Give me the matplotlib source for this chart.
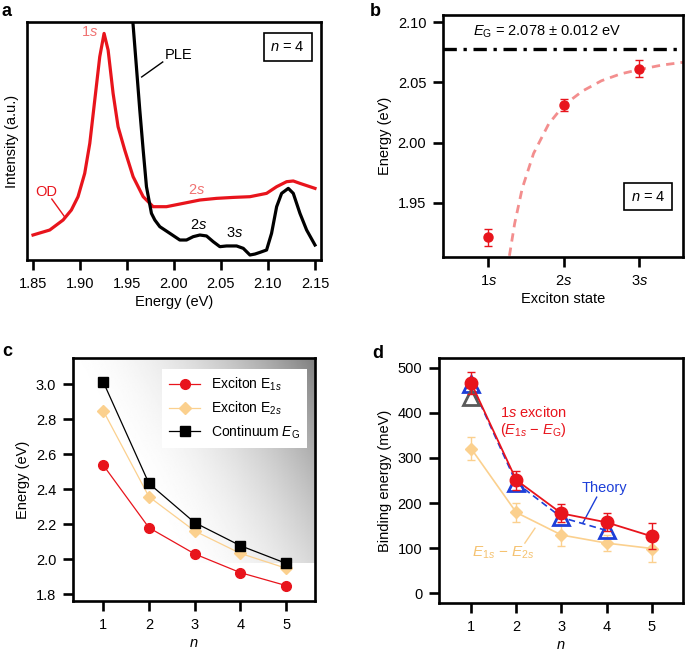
import numpy as np
import matplotlib
matplotlib.use("Agg")
from matplotlib import pyplot as plt

plt.rcParams['font.family'] = ['Liberation Sans', 'DejaVu Sans']
plt.rcParams['mathtext.fontset'] = 'custom'
plt.rcParams['mathtext.rm'] = 'Liberation Sans'
plt.rcParams['mathtext.it'] = 'Liberation Sans:italic'
plt.rcParams['mathtext.bf'] = 'Liberation Sans:bold'
plt.rcParams['font.size'] = 10

# --- panel a: spectra
od_x = [1.85, 1.8678, 1.882, 1.8908, 1.8979, 1.905, 1.9104, 1.9157, 1.921, 1.9256,
        1.9299, 1.9352, 1.9405, 1.9476, 1.9565, 1.9672, 1.9778, 1.992, 2.0098, 2.0275,
        2.0453, 2.063, 2.0808, 2.0985, 2.1092, 2.1198, 2.1269, 2.134, 2.15]
od_y = [0.105, 0.126, 0.168, 0.210, 0.266, 0.364, 0.490, 0.672, 0.854, 0.952,
        0.882, 0.700, 0.560, 0.462, 0.350, 0.266, 0.224, 0.224, 0.238, 0.252,
        0.259, 0.263, 0.266, 0.280, 0.308, 0.329, 0.332, 0.322, 0.301]
ple_x = [1.955, 1.9565, 1.960, 1.9636, 1.9672, 1.9707, 1.976, 1.9796, 1.9849, 1.9956,
         2.0062, 2.0133, 2.0204, 2.0275, 2.0346, 2.0417, 2.0488, 2.0559, 2.0666, 2.0737,
         2.0808, 2.0861, 2.0914, 2.0985, 2.1038, 2.1092, 2.1145, 2.1216, 2.1269, 2.134,
         2.1411, 2.15]
ple_y = [1.05, 0.987, 0.812, 0.630, 0.462, 0.308, 0.196, 0.168, 0.140, 0.112,
         0.084, 0.084, 0.098, 0.105, 0.101, 0.077, 0.056, 0.059, 0.059, 0.049,
         0.021, 0.025, 0.032, 0.042, 0.112, 0.224, 0.280, 0.301, 0.280, 0.196,
         0.126, 0.063]

# --- panel b
states = [1, 2, 3]
state_labels = ['1$s$', '2$s$', '3$s$']
state_E = [1.9215, 2.0312, 2.0613]
state_err = [0.007, 0.005, 0.007]
E_gap = 2.078
fit_x = [1.28, 1.35, 1.45, 1.6, 1.8, 2.0, 2.25, 2.5, 2.75, 3.0, 3.3, 3.58]
fit_y = [1.906, 1.933, 1.962, 1.991, 2.0155, 2.031, 2.0429, 2.0514, 2.057, 2.0607, 2.0644, 2.0667]

# --- panel c
n_vals = [1, 2, 3, 4, 5]
E_1s = [2.537, 2.179, 2.029, 1.922, 1.848]
E_2s = [2.848, 2.356, 2.160, 2.032, 1.947]
E_G = [3.013, 2.432, 2.208, 2.076, 1.975]

# --- panel d
bind_1s = [467, 251, 177, 157, 126]
bind_1s_err = [25, 21, 20, 20, 29]
bind_12 = [321, 179, 129, 111, 99]
bind_12_err = [26, 22, 24, 18, 30]
theory_n = [1, 2, 3, 4]
theory = [465, 245, 168, 139]
theory_grey = [436]

RED = '#e8141c'
LRED = '#f07272'
ORANGE = '#fbd08e'
BLUE = '#1d3fd8'


def style_axes(ax):
    for s in ax.spines.values():
        s.set_linewidth(1.9)
    ax.tick_params(direction='out', length=7, width=1.9, pad=5, labelsize=10.5)


W, H = 685, 654
fig = plt.figure(figsize=(W / 100, H / 100), dpi=100)


def px_axes(l, t, r, b):
    return fig.add_axes([l / W, 1 - b / H, (r - l) / W, (b - t) / H])


# ---------------- a
ax = px_axes(27, 22, 321, 260)
ax.plot(od_x, od_y, color=RED, lw=2.3)
ax.plot(ple_x, ple_y, color='black', lw=2.3)
ax.set_xlim(1.8436, 2.1564)
ax.set_ylim(0, 1)
ax.set_yticks([])
ax.set_xticks([1.85, 1.90, 1.95, 2.00, 2.05, 2.10, 2.15])
ax.set_xlabel('Energy (eV)', fontsize=10.5, labelpad=3)
ax.set_ylabel('Intensity (a.u.)', fontsize=10.5, labelpad=6)
style_axes(ax)
ax.text(1.910, 0.958, '1$s$', color=LRED, ha='center', va='center', fontsize=10.5)
ax.text(2.005, 0.861, 'PLE', color='black', ha='center', va='center', fontsize=10.5)
ax.plot([1.988, 1.9656], [0.832, 0.769], color='black', lw=1)
ax.text(1.8646, 0.286, 'OD', color=RED, ha='center', va='center', fontsize=10.5)
ax.plot([1.870, 1.8837], [0.256, 0.181], color=RED, lw=1)
ax.text(2.024, 0.294, '2$s$', color=LRED, ha='center', va='center', fontsize=10.5)
ax.text(2.026, 0.147, '2$s$', color='black', ha='center', va='center', fontsize=10.5)
ax.text(2.0644, 0.113, '3$s$', color='black', ha='center', va='center', fontsize=10.5)
ax.text(2.121, 0.895, '$n$ = 4', ha='center', va='center', fontsize=10.5,
        bbox=dict(boxstyle='square,pad=0.45', fc='white', ec='black', lw=1.2))
fig.text(2 / W, 1 - 11 / H, 'a', fontsize=13, fontweight='bold', va='center')

# ---------------- b
ax = px_axes(443, 15, 683, 257)
ax.axhline(E_gap, color='black', lw=2.4, ls=(0, (4, 2, 1, 2)))
ax.plot(fit_x, fit_y, color=LRED, lw=2, ls=(0, (3, 2.2)), alpha=0.8)
ax.errorbar(states, state_E, yerr=state_err, fmt='o', color=RED, ms=6.5,
            capsize=3, elinewidth=1, capthick=1)
ax.set_xlim(0.40, 3.58)
ax.set_ylim(1.905, 2.106)
ax.set_xticks(states)
ax.set_xticklabels(state_labels)
ax.set_yticks([1.95, 2.00, 2.05, 2.10])
ax.set_yticklabels(['1.95', '2.00', '2.05', '2.10'])
ax.set_xlabel('Exciton state', fontsize=10.5, labelpad=3)
ax.set_ylabel('Energy (eV)', fontsize=10.5, labelpad=4)
style_axes(ax)
ax.text(1.78, 2.0917, '$E_{\\mathrm{G}}$ = 2.078 ± 0.012 eV', ha='center', va='center', fontsize=10.5)
ax.text(3.12, 1.955, '$n$ = 4', ha='center', va='center', fontsize=10.5,
        bbox=dict(boxstyle='square,pad=0.45', fc='white', ec='black', lw=1.2))
fig.text(370 / W, 1 - 11 / H, 'b', fontsize=13, fontweight='bold', va='center')

# ---------------- c
ax = px_axes(73, 358, 315, 601)
x0, x1, y0, y1 = 0.34, 5.63, 1.76, 3.149
gx = np.linspace(0, 1, 200)
gy = np.linspace(0, 1, 200)
GX, GY = np.meshgrid(gx, gy)
# background shading, darkest in the top right corner
s = 0.75 * GX + 0.35 * GY
shade = 1 - 0.5 * np.clip((s - 0.3) / 0.8, 0, 1) ** 2
ax.imshow(shade, extent=[x0, x1, 1.979, y1], origin='lower', cmap='gray',
          vmin=0, vmax=1, aspect='auto', zorder=0)
ax.plot(n_vals, E_1s, color=RED, lw=0.9, marker='o', ms=7, label='Exciton E$_{1s}$')
ax.plot(n_vals, E_2s, color=ORANGE, lw=0.9, marker='D', ms=6.5, label='Exciton E$_{2s}$')
ax.plot(n_vals, E_G, color='black', lw=0.9, marker='s', ms=6.5, label='Continuum $E_{\\mathrm{G}}$')
ax.set_xlim(x0, x1)
ax.set_ylim(y0, y1)
ax.set_xticks(n_vals)
ax.set_yticks([1.8, 2.0, 2.2, 2.4, 2.6, 2.8, 3.0])
ax.set_xlabel('$n$', fontsize=10.5, labelpad=3)
ax.set_ylabel('Energy (eV)', fontsize=10.5, labelpad=4)
style_axes(ax)
leg = ax.legend(loc='upper right', bbox_to_anchor=(0.967, 0.955), borderaxespad=0,
                fancybox=False, framealpha=1, edgecolor='none', fontsize=10,
                handlelength=2.2, labelspacing=0.45, borderpad=0.5)
fig.text(2 / W, 1 - 352 / H, 'c', fontsize=13, fontweight='bold', va='center')

# ---------------- d
ax = px_axes(439, 358, 683, 603)
ax.errorbar(n_vals, bind_12, yerr=bind_12_err, color=ORANGE, lw=1.2, marker='D',
            ms=6, capsize=3, elinewidth=1, capthick=1)
ax.plot(theory_n, theory, color=BLUE, lw=1.2, ls=(0, (4, 2.5)), marker='^', ms=11,
        mfc='none', mew=2, zorder=3)
ax.plot([1], theory_grey, color='#5a5a5a', ls='none', marker='^', ms=11, mfc='none', mew=2, zorder=3)
ax.errorbar(n_vals, bind_1s, yerr=bind_1s_err, color=RED, lw=1.3, marker='o',
            ms=9, capsize=3, elinewidth=1, capthick=1, zorder=4)
ax.set_xlim(0.29, 5.69)
ax.set_ylim(-22, 522)
ax.set_xticks(n_vals)
ax.set_yticks([0, 100, 200, 300, 400, 500])
ax.set_xlabel('$n$', fontsize=10.5, labelpad=3)
ax.set_ylabel('Binding energy (meV)', fontsize=10.5, labelpad=4)
style_axes(ax)
ax.text(2.37, 402, '1$s$ exciton', color=RED, ha='center', va='center', fontsize=10.5)
ax.text(2.37, 362, '($E_{1s}$ − $E_{\\mathrm{G}}$)', color=RED, ha='center', va='center', fontsize=10.5)
ax.text(3.96, 233, 'Theory', color=BLUE, ha='center', va='center', fontsize=10.5)
ax.plot([3.78, 3.475], [213, 156], color=BLUE, lw=1)
ax.text(1.71, 89, '$E_{1s}$ − $E_{2s}$', color='#f5c270', ha='center', va='center', fontsize=11)
ax.plot([2.414, 2.19], [144, 111], color=ORANGE, lw=1)
fig.text(372 / W, 1 - 353 / H, 'd', fontsize=13, fontweight='bold', va='center')

fig.savefig('out.png', dpi=100)
